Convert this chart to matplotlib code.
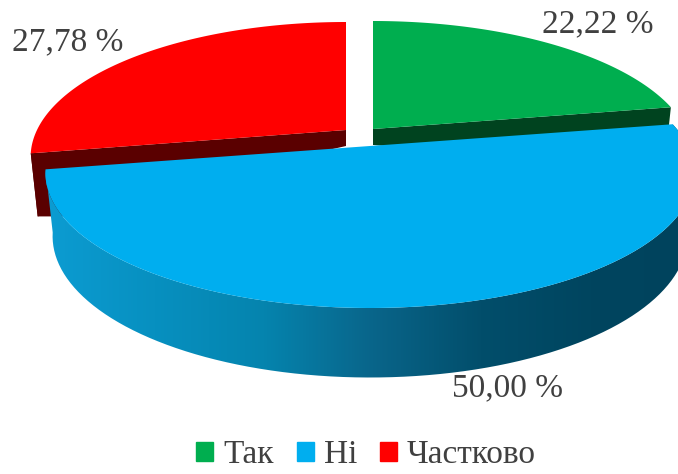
# -*- coding: utf-8 -*-
# exploded 3D style pie, matplotlib has no such pie so faces and walls are filled by hand
import numpy as np
import matplotlib
matplotlib.use("Agg")
import matplotlib.pyplot as plt
from matplotlib.colors import LinearSegmentedColormap
from matplotlib.patches import Patch, PathPatch
from matplotlib.path import Path

# data
categories = ["Так", "Ні", "Частково"]
shares = [22.22, 50.00, 27.78]

# colours
top_colors = ["#00AE4F", "#00AEEF", "#FF0000"]
wall_colors = ["#00431F", None, "#5A0000"]
blue_wall_stops = ["#0C9CD2", "#0790C0", "#0584AE", "#09658A", "#024E6B", "#00455F", "#00435D"]

# layout: pixel position of each slice tip, and horizontal radius
centers = [(373, 129), (370, 146), (346, 130)]
radii_x = [313, 318, 309]
radius_y = 129.6
tilt = 0.2
label_pos = [(598, 24), (507, 388), (68, 42)]


def project(ang, r, cx, cy, ax_r):
    """Flat pie point to picture pixels, far side of the pie gets smaller."""
    u = r * np.cos(ang)
    v = r * np.sin(ang)
    s = 1 / (1 + tilt * v)
    return cx + ax_r * u * s, cy - radius_y * v * s


def lower(x, y, cx, cy):
    """Same point on the bottom plane of the pie."""
    v = (cy - y) / radius_y
    return cx + (x - cx) * 0.978, y + 62 - 6 * v


fig = plt.figure(figsize=(6.78, 4.74), dpi=100)
ax = fig.add_axes([0, 0, 1, 1])
ax.set_xlim(0, 678)
ax.set_ylim(474, 0)
ax.axis("off")
plt.rcParams["font.family"] = ["Liberation Serif", "DejaVu Serif"]

# slice angles from the values, clockwise from 12 o'clock
edges = 90 - np.cumsum([0] + shares) * 3.6
slices = []
for i in range(3):
    ang = np.radians(np.linspace(edges[i], edges[i + 1], 200))
    cx, cy = centers[i]
    arc_x, arc_y = project(ang, 1, cx, cy, radii_x[i])
    slices.append((arc_x, arc_y, cx, cy))

# back slices first: red, green, blue covers both
for i in [2, 0, 1]:
    arc_x, arc_y, cx, cy = slices[i]
    low_x, low_y = lower(arc_x, arc_y, cx, cy)
    if wall_colors[i] is not None:
        # front cut of the slice
        tip = 0 if i == 2 else -1
        tx, ty = lower(arc_x[tip], arc_y[tip], cx, cy)
        ax.fill([arc_x[tip], cx, cx, tx], [arc_y[tip], cy, cy + 16, ty],
                color=wall_colors[i], lw=0)
        # left end of red goes down behind the blue
        if i == 2:
            ax.fill([arc_x[0], arc_x[0] + 40, tx + 40, tx],
                    [arc_y[0], arc_y[0], ty, ty], color=wall_colors[i], lw=0)
    else:
        wall_x = np.r_[arc_x, low_x[::-1]]
        wall_y = np.r_[arc_y, low_y[::-1]]
        clip = PathPatch(Path(np.c_[wall_x, wall_y]), transform=ax.transData,
                         fc="none", ec="none")
        ax.add_patch(clip)
        cmap = LinearSegmentedColormap.from_list("wall", blue_wall_stops)
        im = ax.imshow(np.linspace(0, 1, 256)[None, :], cmap=cmap, aspect="auto",
                       extent=(45, 700, 474, 0), zorder=2)
        im.set_clip_path(clip)
    ax.fill(np.r_[cx, arc_x], np.r_[cy, arc_y], color=top_colors[i], lw=0, zorder=3)

ax.set_xlim(0, 678)
ax.set_ylim(474, 0)

# value labels
for i in range(3):
    txt = f"{shares[i]:.2f}".replace(".", ",") + " %"
    ax.text(label_pos[i][0], label_pos[i][1], txt, fontsize=24, color="#404040",
            ha="center", va="center", zorder=5)

# legend
handles = [Patch(color=c) for c in top_colors]
ax.legend(handles, categories, ncol=3, frameon=False, loc="lower center",
          bbox_to_anchor=(0.54, -0.055), fontsize=24, labelcolor="#404040",
          handlelength=0.5, handleheight=0.5, handletextpad=0.3, columnspacing=0.7)

plt.savefig("out.png", dpi=100)
